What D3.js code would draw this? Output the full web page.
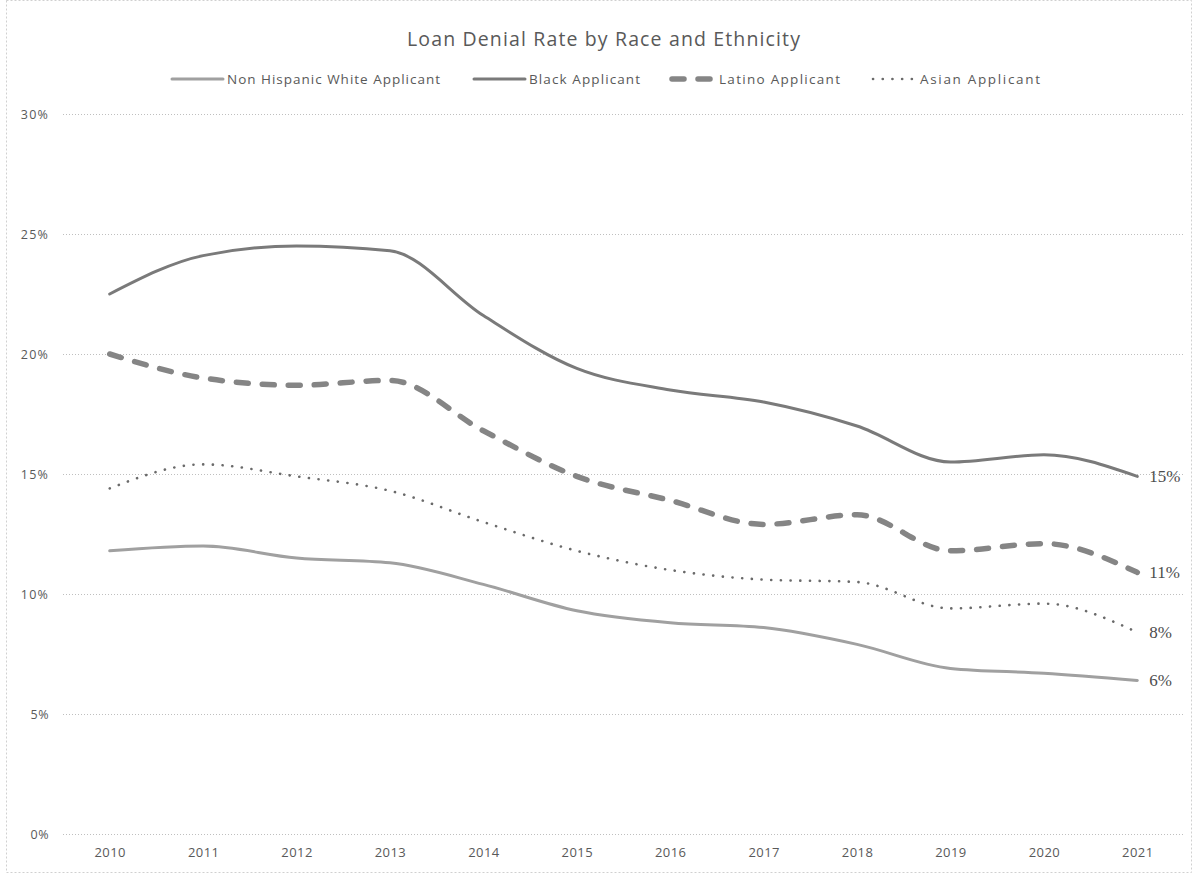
<!DOCTYPE html>
<html><head><meta charset="utf-8">
<script src="https://cdn.jsdelivr.net/npm/d3@7/dist/d3.min.js"></script>
<style>
html,body{margin:0;padding:0;background:#fff;}
svg text{font-family:"Open Sans",Lato,sans-serif;}
</style></head>
<body><svg id="c" width="1193" height="874"></svg>
<script>
const years = ["2010","2011","2012","2013","2014","2015","2016","2017","2018","2019","2020","2021"];
const whiteRates  = [11.8, 12.0, 11.5, 11.3, 10.4, 9.3, 8.8, 8.6, 7.9, 6.9, 6.7, 6.4];
const blackRates  = [22.5, 24.1, 24.5, 24.3, 21.6, 19.4, 18.5, 18.0, 17.0, 15.5, 15.8, 14.9];
const latinoRates = [20.0, 19.0, 18.7, 18.9, 16.8, 14.9, 13.9, 12.9, 13.3, 11.8, 12.1, 10.9];
const asianRates  = [14.4, 15.4, 14.9, 14.3, 13.0, 11.8, 11.0, 10.6, 10.5, 9.4, 9.6, 8.4];
const seriesNames = ["Non Hispanic White Applicant","Black Applicant","Latino Applicant","Asian Applicant"];
const yTicks = [0,5,10,15,20,25,30];
const titleText = "Loan Denial Rate by Race and Ethnicity";

const styles = [
  {color:"#a0a0a0", width:3, dash:null, cap:"round"},
  {color:"#7a7a7a", width:3, dash:null, cap:"round"},
  {color:"#858585", width:5.5, dash:"12,14", cap:"round"},
  {color:"#6a6a6a", width:2.6, dash:"0.1,9.6", cap:"round"}
];
const data = [whiteRates, blackRates, latinoRates, asianRates];

function fit(sel, target){
  const n = sel.text().length;
  const w = sel.node().getComputedTextLength();
  if(n>1) sel.attr("letter-spacing", ((target-w)/(n-1)).toFixed(2)+"px");
}

const svg = d3.select("#c");
svg.append("rect").attr("x",6.5).attr("y",0.5).attr("width",1185).attr("height",872)
  .attr("fill","none").attr("stroke","#d0d0d0").attr("stroke-dasharray","2,2");

const L=63, R=1184, T=114, B=834;
const x = d3.scalePoint().domain(years).range([L,R]).padding(0.5);
const y = d3.scaleLinear().domain([0,30]).range([B,T]);

svg.append("g").selectAll("line").data(yTicks).join("line")
  .attr("x1",L).attr("x2",R).attr("y1",d=>y(d)+0.5).attr("y2",d=>y(d)+0.5)
  .attr("stroke","#bfbfbf").attr("stroke-width",1).attr("stroke-dasharray","1,2");

const yAxis = d3.axisLeft(y).tickValues(yTicks).tickFormat(d=>d+"%").tickSize(0).tickPadding(14);
const gy = svg.append("g").attr("transform",`translate(${L},0)`).call(yAxis);
gy.select(".domain").remove();
gy.selectAll("text").attr("fill","#595959").style("font-size","12.5px").each(function(){ fit(d3.select(this), d3.select(this).text().length>2?27:18); });

const xAxis = d3.axisBottom(x).tickSize(0).tickPadding(14);
const gx = svg.append("g").attr("transform",`translate(0,${B})`).call(xAxis);
gx.select(".domain").remove();
gx.selectAll("text").attr("fill","#595959").style("font-size","13px").each(function(){ fit(d3.select(this), 31); });

const line = d3.line().x((d,i)=>x(years[i])).y(d=>y(d)).curve(d3.curveMonotoneX);
data.forEach((vals,k)=>{
  const s = styles[k];
  const p = svg.append("path").datum(vals).attr("d",line)
    .attr("fill","none").attr("stroke",s.color).attr("stroke-width",s.width)
    .attr("stroke-linecap",s.cap).attr("stroke-linejoin","round");
  if(s.dash) p.attr("stroke-dasharray",s.dash);
});

data.forEach((vals,k)=>{
  const v = vals[vals.length-1];
  svg.append("text").attr("x",x(years[years.length-1])+12).attr("y",y(v)+6)
    .attr("fill","#4d4d4d").style("font-family","'Liberation Serif','DejaVu Serif',serif")
    .style("font-size","17px").text(Math.round(v)+"%");
});

const tt = svg.append("text").attr("x",407).attr("y",46)
  .attr("fill","#595959").style("font-size","19.5px").text(titleText);
fit(tt, 393);

const legX = [172, 474, 672, 873];
const legW = [51, 51, 43, 43];
const legTW = [213, 111, 121, 120];
seriesNames.forEach((n,k)=>{
  const s = styles[k];
  const yy = 79;
  const ln = svg.append("line").attr("x1",legX[k]).attr("x2",legX[k]+legW[k]).attr("y1",yy).attr("y2",yy)
    .attr("stroke",s.color).attr("stroke-width",s.width).attr("stroke-linecap",s.cap);
  if(s.dash) ln.attr("stroke-dasharray",s.dash);
  const t = svg.append("text").attr("x",legX[k]+legW[k]+4).attr("y",yy+5).attr("fill","#595959")
    .style("font-size","13.5px").text(n);
  fit(t, legTW[k]);
});
</script></body></html>
